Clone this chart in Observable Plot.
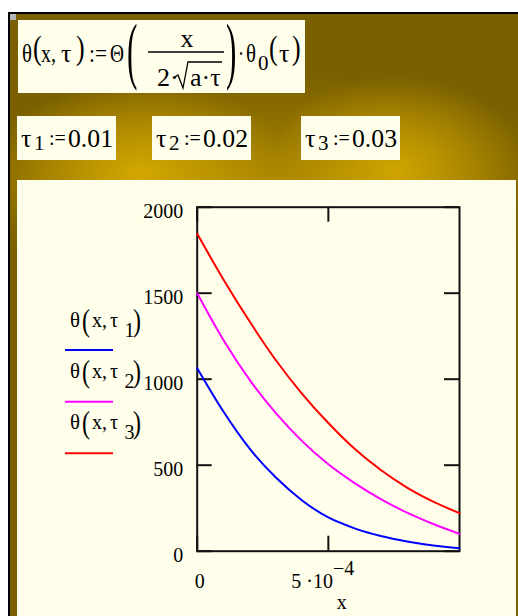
<!DOCTYPE html>
<html>
<head>
<meta charset="utf-8">
<script src="https://cdn.jsdelivr.net/npm/d3@7"></script>
<script src="https://cdn.jsdelivr.net/npm/@observablehq/plot@0.6"></script>
<style>
  html, body { margin: 0; padding: 0; background: #fff; }
  #sheet { position: relative; width: 518px; height: 616px; overflow: hidden;
           font-family: "Liberation Serif", "Times New Roman", serif; }
  #bg { position: absolute; left: 8px; top: 12px; width: 508px; height: 602px;
        border-top: 2px solid #000; border-left: 2px solid #000;
        background:
          radial-gradient(ellipse 150px 95px at 130px 160px, rgba(214,170,0,0.95), rgba(214,170,0,0) 100%),
          radial-gradient(ellipse 130px 95px at 385px 156px, rgba(214,170,0,0.9), rgba(214,170,0,0) 100%),
          radial-gradient(ellipse 330px 110px at 255px 170px, rgba(190,150,0,0.7), rgba(190,150,0,0) 100%),
          #7a6000; }
  #grip { position: absolute; left: 10px; top: 14px; width: 6px; height: 6px; background: #b4b4b4; }
  #panel { position: absolute; left: 17px; top: 180px; width: 499px; height: 436px; background: #fffeea; }
  #chart { position: absolute; left: 0; top: 180px; }
  #notes { position: absolute; left: 0; top: 0; }
</style>
</head>
<body>
<div id="sheet">
  <div id="bg"></div>
  <div id="grip"></div>
  <div id="panel"></div>
  <div id="chart"></div>
</div>
<script>
// Temperature profiles θ(x, τ) at three moments τ1, τ2, τ3
const xs = [0, 0.0001, 0.0002, 0.0003, 0.0004, 0.0005, 0.0006, 0.0007, 0.0008, 0.0009, 0.001];
const theta1 = [1064, 812, 596, 428, 295, 196, 133, 88, 56, 33, 17];
const theta2 = [1500, 1228, 996, 803, 640, 505, 396, 303, 224, 158, 101];
const theta3 = [1845, 1580, 1335, 1110, 915, 745, 595, 472, 370, 288, 221];
const taus = [0.01, 0.02, 0.03];
const yTicks = [0, 500, 1000, 1500, 2000];
const xTicks = [0, 0.0005];

const colors = ["#0000ff", "#ff00ff", "#ff0000"];
const serif = "Liberation Serif, Times New Roman, serif";

const W = 518, H = 436;
const mL = 196.7, mR = 59, mT = 26.7, mB = 65.3;
const fw = W - mL - mR, fh = H - mT - mB, tick = 15;

const toRows = s => s.map((v, i) => ({x: xs[i], y: v}));

const chart = Plot.plot({
  width: W, height: H,
  marginLeft: mL, marginRight: mR, marginTop: mT, marginBottom: mB,
  x: {domain: [0, 0.001]},
  y: {domain: [0, 2000]},
  style: {background: "transparent", color: "#000", fontFamily: serif, fontSize: "20px"},
  marks: [
    Plot.frame({stroke: "#111", strokeWidth: 2}),
    Plot.tickY(yTicks, {stroke: "#111", strokeWidth: 2, insetRight: fw - tick}),
    Plot.tickY(yTicks, {stroke: "#111", strokeWidth: 2, insetLeft: fw - tick}),
    Plot.tickX(xTicks, {stroke: "#111", strokeWidth: 2, insetBottom: fh - tick}),
    Plot.tickX(xTicks, {stroke: "#111", strokeWidth: 2, insetTop: fh - tick}),
    Plot.axisY({ticks: yTicks, tickSize: 0, tickPadding: 14, dy: 4, label: null,
                tickFormat: d => String(d)}),
    Plot.axisX({ticks: xTicks, tickSize: 0, tickPadding: 23, label: null,
                tickFormat: d => d === 0 ? "0" : "5 \u00b710"}),
    Plot.text(["x"], {frameAnchor: "bottom", dx: 13.4, dy: 58}),
    Plot.line(toRows(theta1), {x: "x", y: "y", stroke: colors[0], strokeWidth: 2, curve: "monotone-x"}),
    Plot.line(toRows(theta2), {x: "x", y: "y", stroke: colors[1], strokeWidth: 2, curve: "monotone-x"}),
    Plot.line(toRows(theta3), {x: "x", y: "y", stroke: colors[2], strokeWidth: 2, curve: "monotone-x"})
  ]
});

// exponent of the 5·10^-4 tick label
chart.querySelectorAll('[aria-label="x-axis tick label"] text').forEach(t => {
  if (t.textContent === "0") {
    t.setAttribute("dx", "2.6");
  } else {
    const sup = document.createElementNS("http://www.w3.org/2000/svg", "tspan");
    sup.setAttribute("dy", "-13");
    sup.textContent = "\u22124";
    t.appendChild(sup);
    t.setAttribute("dx", "-5.6");
  }
});
document.getElementById("chart").appendChild(chart);

// worksheet math regions: definition, parameters, trace legend
const NS = "http://www.w3.org/2000/svg";
const notes = document.createElementNS(NS, "svg");
notes.setAttribute("id", "notes");
notes.setAttribute("width", 518);
notes.setAttribute("height", 616);
notes.setAttribute("font-family", serif);
document.getElementById("sheet").appendChild(notes);

function el(name, attrs, content) {
  const e = document.createElementNS(NS, name);
  for (const k in attrs) e.setAttribute(k, attrs[k]);
  if (content != null) e.textContent = content;
  notes.appendChild(e);
  return e;
}
function word(x, y, s, size, extra = {}) {
  return el("text", {x, y, "font-size": size, fill: "#000", ...extra}, s);
}
function fitted(x, y, s, size, w) {
  return word(x, y, s, size, {textLength: w, lengthAdjust: "spacingAndGlyphs"});
}
function paren(ch, x, cy, size, sx, sy) {
  return el("text", {x: 0, y: 0.257 * size, "font-size": size, fill: "#000",
    transform: `translate(${x},${cy}) scale(${sx},${sy})`}, ch);
}
const cream = "#fffeea";

// θ(x, τ) := Θ( x / (2·√(a·τ)) )·θ0(τ)
el("rect", {x: 18, y: 20, width: 287, height: 73, fill: cream});
const F = 26;
fitted(22, 62, "\u03b8", F, 10);
paren("(", 33, 50, F, 1, 1.33);
fitted(41, 62, "x,", F, 15);
word(61, 62, "\u03c4", F);
paren(")", 76, 50, F, 1, 1.33);
fitted(89, 62, ":=", F, 18);
fitted(110, 62, "\u0398", F, 14);
paren("(", 127, 55.5, F, 1.2, 2.88);
word(187, 47, "x", F, {"text-anchor": "middle"});
el("line", {x1: 148, x2: 224, y1: 52, y2: 52, stroke: "#000", "stroke-width": 1.5});
word(157, 86, "2\u00b7", F);
el("path", {d: "M175,77 L178,75 L183,88 L188,62 L222,62", fill: "none", stroke: "#000", "stroke-width": 1.3});
word(190, 86, "a\u00b7\u03c4", F);
paren(")", 226, 55.5, F, 1.2, 2.88);
fitted(238, 62, "\u00b7", F, 6);
fitted(246, 62, "\u03b8", F, 10);
word(258, 70, "0", 21);
paren("(", 269, 50, F, 1, 1.33);
word(279, 62, "\u03c4", F);
paren(")", 292, 50, F, 1, 1.33);

// τ1 := 0.01   τ2 := 0.02   τ3 := 0.03
const boxLeft = [17, 152, 301];
taus.forEach((t, i) => {
  const bx = boxLeft[i];
  el("rect", {x: bx, y: 116, width: 99, height: 44, fill: cream});
  word(bx + 4, 147, "\u03c4", F);
  word(bx + 17, 150, String(i + 1), 21);
  word(bx + 32, 145, ":=", 20);
  fitted(bx + 51, 147, t.toFixed(2), F, 45);
});

// trace legend
const legendBase = [327.3, 378.3, 429.3];
const legendLine = [350, 401.7, 453.3];
colors.forEach((c, i) => {
  const B = legendBase[i], L = 20;
  fitted(70, B, "\u03b8", L, 10);
  paren("(", 82, B - 4.8, L, 1.2, 1.6);
  fitted(92, B, "x,", L, 15);
  word(110, B, "\u03c4", L);
  word(124.5, B + 9.4, String(i + 1), L);
  paren(")", 133, B - 4.8, L, 1.2, 1.6);
  el("line", {x1: 65, x2: 113, y1: legendLine[i], y2: legendLine[i], stroke: c, "stroke-width": 2});
});
</script>
</body>
</html>
